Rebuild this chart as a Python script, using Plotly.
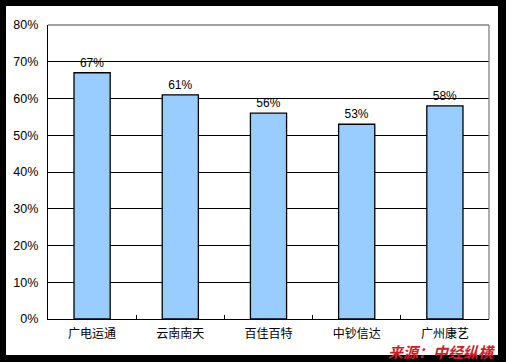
import plotly.graph_objects as go

categories = ["广电运通", "云南南天", "百佳百特", "中钞信达", "广州康艺"]
values = [0.67, 0.61, 0.56, 0.53, 0.58]
value_labels = ["67%", "61%", "56%", "53%", "58%"]
y_ticks = [0, 0.1, 0.2, 0.3, 0.4, 0.5, 0.6, 0.7, 0.8]
y_tick_labels = ["0%", "10%", "20%", "30%", "40%", "50%", "60%", "70%", "80%"]
source_text = "来源：中经纵横"

W, H = 506, 362
L, R, T, B = 48, 17, 25, 43
pw, ph = W - L - R, H - T - B

def px(x):
    return (x - L) / pw

def py(y):
    return (H - B - y) / ph

fig = go.Figure()
fig.add_trace(go.Bar(
    x=categories, y=values, text=value_labels, textposition="outside",
    marker=dict(color="#99CCFF", line=dict(color="black", width=1.3)),
    width=0.41,
    textfont=dict(family="Liberation Sans, Noto Sans CJK SC", size=12, color="black"),
    cliponaxis=False,
))

shapes = [
    dict(type="rect", xref="paper", yref="paper", x0=px(6), x1=px(498), y0=py(355), y1=py(6),
         fillcolor="white", line=dict(width=0), layer="below"),
    dict(type="line", xref="paper", yref="paper", x0=0, x1=1, y0=1, y1=1,
         line=dict(color="#808080", width=1.3), layer="above"),
    dict(type="line", xref="paper", yref="paper", x0=1, x1=1, y0=0, y1=1,
         line=dict(color="#808080", width=1.3), layer="above"),
]

fig.update_layout(
    width=W, height=H,
    margin=dict(l=L, r=R, t=T, b=B),
    paper_bgcolor="black", plot_bgcolor="white",
    showlegend=False,
    shapes=shapes,
    font=dict(family="Liberation Sans, Noto Sans CJK SC", size=12, color="black"),
    xaxis=dict(
        type="category", showline=True, linecolor="black", linewidth=1.3,
        ticks="inside", tickson="boundaries", ticklen=4, tickcolor="black",
        showgrid=False, ticklabelstandoff=3,
        tickfont=dict(family="Noto Sans CJK SC", size=12, color="black"),
        fixedrange=True,
    ),
    yaxis=dict(
        range=[0, 0.8], tickvals=y_ticks, ticktext=y_tick_labels,
        showline=True, linecolor="black", linewidth=1.3,
        ticks="inside", ticklen=3, tickcolor="black",
        showgrid=True, gridcolor="black", gridwidth=1.3,
        zeroline=False, ticklabelstandoff=6,
        tickfont=dict(family="Liberation Sans", size=12.5, color="black"),
        fixedrange=True,
    ),
    annotations=[dict(
        text=source_text, xref="paper", yref="paper",
        x=px(442), y=py(351.5), xanchor="center", yanchor="middle",
        showarrow=False,
        font=dict(family="Noto Sans CJK SC", size=15, color="#CC1F2A", weight="bold", style="italic"),
    )],
)

fig.write_html("out.html")
